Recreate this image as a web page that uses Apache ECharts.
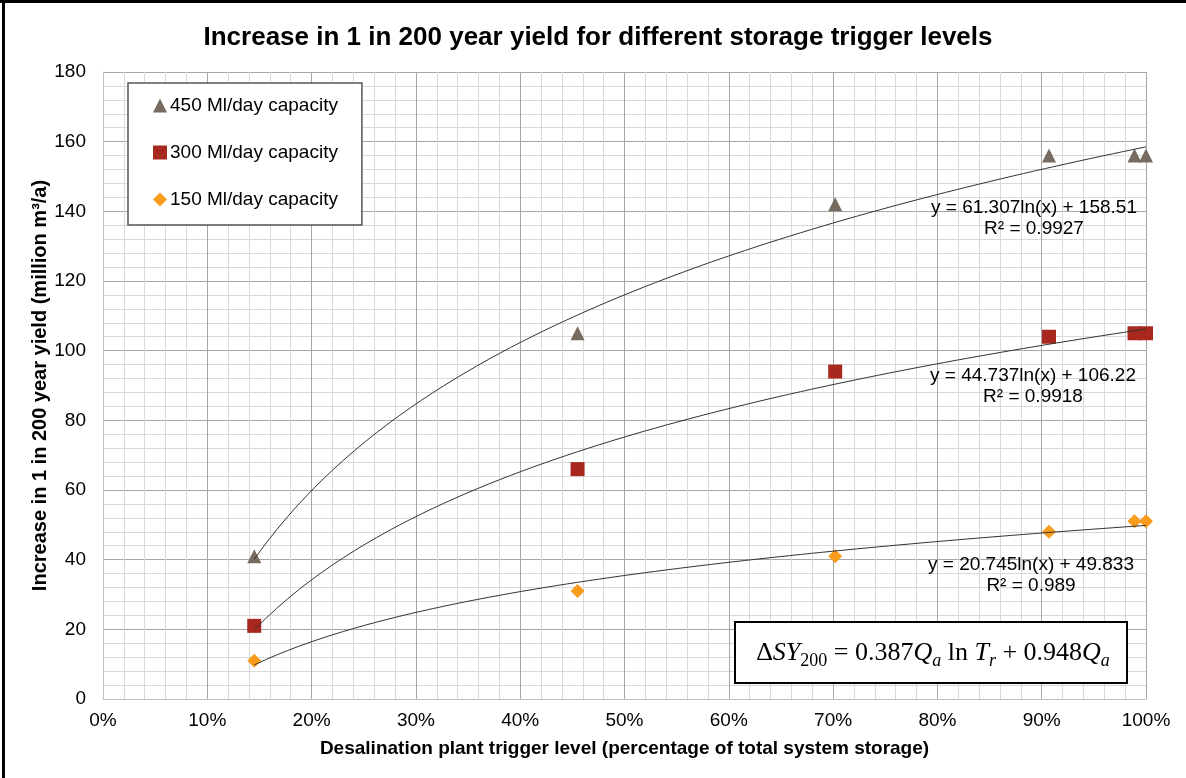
<!DOCTYPE html>
<html>
<head>
<meta charset="utf-8">
<style>
  html, body { margin: 0; padding: 0; background: #fff; }
  #chart { width: 1186px; height: 778px; }
</style>
<script src="https://cdn.jsdelivr.net/npm/echarts@6/dist/echarts.min.js"></script>
</head>
<body>
<div id="chart"></div>
<script>
// Trigger level as a fraction of total system storage
const triggerLevels = [0.145, 0.455, 0.702, 0.907, 0.989, 1.0];

// Increase in 1 in 200 year yield (million m3/a) per plant capacity
const yield450 = [41, 105, 142, 156, 156, 156];
const yield300 = [21, 66, 94, 104, 105, 105];
const yield150 = [11, 31, 41, 48, 51, 51];

const seriesNames = ['450 Ml/day capacity', '300 Ml/day capacity', '150 Ml/day capacity'];

// Logarithmic trendlines: y = slope * ln(x) + intercept
const trendSlopes = [61.307, 44.737, 20.745];
const trendIntercepts = [158.51, 106.22, 49.833];
const trendR2 = ['0.9927', '0.9918', '0.989'];

const FONT = '"Liberation Sans", Arial, sans-serif';

function pairs(ys) {
  return triggerLevels.map((x, i) => [x, ys[i]]);
}

function trendCurve(k) {
  const x0 = triggerLevels[0];
  const x1 = triggerLevels[triggerLevels.length - 1];
  const pts = [];
  const n = 80;
  for (let i = 0; i <= n; i++) {
    const x = x0 + (x1 - x0) * i / n;
    pts.push([x, trendSlopes[k] * Math.log(x) + trendIntercepts[k]]);
  }
  return pts;
}

function eqText(k) {
  return 'y = ' + trendSlopes[k].toFixed(3) + 'ln(x) + ' + String(trendIntercepts[k]);
}

const chart = echarts.init(document.getElementById('chart'), null, { renderer: 'canvas' });

const markerSeries = [
  { name: seriesNames[0], symbol: 'triangle', symbolSize: 14, color: '#766B5E', data: pairs(yield450) },
  { name: seriesNames[1], symbol: 'rect', symbolSize: 14, color: '#A8281F', data: pairs(yield300) },
  { name: seriesNames[2], symbol: 'diamond', symbolSize: 14, color: '#F99B1C', data: pairs(yield150) }
].map(s => ({
  type: 'scatter',
  name: s.name,
  symbol: s.symbol,
  symbolSize: s.symbolSize,
  itemStyle: { color: s.color, opacity: 1 },
  data: s.data,
  z: 3
}));

const trendSeries = [0, 1, 2].map(k => ({
  type: 'line',
  name: 'trend' + k,
  data: trendCurve(k),
  showSymbol: false,
  symbol: 'none',
  silent: true,
  lineStyle: { color: '#333', width: 1 },
  z: 4
}));

// Trendline equation annotations
const eqPos = [
  { x: 1034, y: 208 },
  { x: 1033, y: 376 },
  { x: 1031, y: 565 }
];
const eqGraphics = [];
eqPos.forEach((p, k) => {
  eqGraphics.push({
    type: 'text', x: p.x, y: p.y, z: 10,
    style: { text: eqText(k), font: '19px ' + FONT, fill: '#000', textAlign: 'center', textVerticalAlign: 'middle' }
  });
  eqGraphics.push({
    type: 'text', x: p.x, y: p.y + 21, z: 10,
    style: { text: 'R² = ' + trendR2[k], font: '19px ' + FONT, fill: '#000', textAlign: 'center', textVerticalAlign: 'middle' }
  });
});

const SERIF = '"Liberation Serif", "DejaVu Serif", serif';
const formulaRich = {
  n: { fontFamily: SERIF, fontSize: 26, lineHeight: 34, color: '#000', verticalAlign: 'middle' },
  i: { fontFamily: SERIF, fontSize: 26, fontStyle: 'italic', lineHeight: 34, color: '#000', verticalAlign: 'middle' },
  s: { fontFamily: SERIF, fontSize: 18, lineHeight: 17, color: '#000', verticalAlign: 'bottom' },
  si: { fontFamily: SERIF, fontSize: 18, fontStyle: 'italic', lineHeight: 17, color: '#000', verticalAlign: 'bottom' }
};

const option = {
  animation: false,
  backgroundColor: '#ffffff',
  grid: { left: 103, right: 40, top: 72, bottom: 79, containLabel: false },
  legend: {
    data: seriesNames,
    orient: 'vertical',
    left: 128,
    top: 83,
    padding: [13, 24, 16, 25],
    itemGap: 28,
    itemWidth: 14,
    itemHeight: 14,
    backgroundColor: '#ffffff',
    borderColor: '#555',
    borderWidth: 1.5,
    textStyle: { fontFamily: FONT, fontSize: 19, color: '#000', padding: [0, 0, 0, -2] }
  },
  xAxis: {
    type: 'value',
    min: 0,
    max: 1,
    interval: 0.1,
    name: 'Desalination plant trigger level (percentage of total system storage)',
    nameLocation: 'middle',
    nameGap: 40,
    nameTextStyle: { fontFamily: FONT, fontSize: 19, fontWeight: 'bold', color: '#000' },
    axisLine: { show: true, lineStyle: { color: '#bfbfbf', width: 1 } },
    axisTick: { show: false },
    axisLabel: {
      fontFamily: FONT, fontSize: 19, color: '#000', margin: 12,
      formatter: v => Math.round(v * 100) + '%'
    },
    splitLine: { show: true, lineStyle: { color: '#a6a6a6', width: 1 } },
    minorTick: { show: false, splitNumber: 5 },
    minorSplitLine: { show: true, lineStyle: { color: '#d9d9d9', width: 1 } }
  },
  yAxis: {
    type: 'value',
    min: 0,
    max: 180,
    interval: 20,
    name: 'Increase in 1 in 200 year yield (million m³/a)',
    nameLocation: 'middle',
    nameGap: 53,
    nameMoveOverlap: false,
    nameTextStyle: { fontFamily: FONT, fontSize: 20, fontWeight: 'bold', color: '#000' },
    axisLine: { show: true, lineStyle: { color: '#bfbfbf', width: 1 } },
    axisTick: { show: false },
    axisLabel: { fontFamily: FONT, fontSize: 19, color: '#000', margin: 17 },
    splitLine: { show: true, lineStyle: { color: '#a6a6a6', width: 1 } },
    minorTick: { show: false, splitNumber: 5 },
    minorSplitLine: { show: true, lineStyle: { color: '#d9d9d9', width: 1 } }
  },
  series: markerSeries.concat(trendSeries),
  graphic: [
    // outer frame edges
    { type: 'rect', shape: { x: 0, y: 0, width: 1186, height: 3 }, style: { fill: '#000' }, z: 20 },
    { type: 'rect', shape: { x: 2, y: 0, width: 3, height: 778 }, style: { fill: '#000' }, z: 20 },
    {
      type: 'text', x: 598, y: 38, z: 10,
      style: {
        text: 'Increase in 1 in 200 year yield for different storage trigger levels',
        font: 'bold 26px ' + FONT, fill: '#000', textAlign: 'center', textVerticalAlign: 'middle'
      }
    },
    {
      type: 'rect', z: 10,
      shape: { x: 735, y: 622, width: 392, height: 61 },
      style: { fill: '#fff', stroke: '#000', lineWidth: 2 }
    },
    {
      type: 'text', x: 933, y: 653, z: 11,
      style: {
        text: '{n|Δ}{i|SY}{s|200}{n| = 0.387}{i|Q}{si|a}{n| ln }{i|T}{si|r}{n| + 0.948}{i|Q}{si|a}',
        rich: formulaRich,
        align: 'center',
        verticalAlign: 'middle'
      }
    }
  ].concat(eqGraphics)
};

chart.setOption(option);
</script>
</body>
</html>
